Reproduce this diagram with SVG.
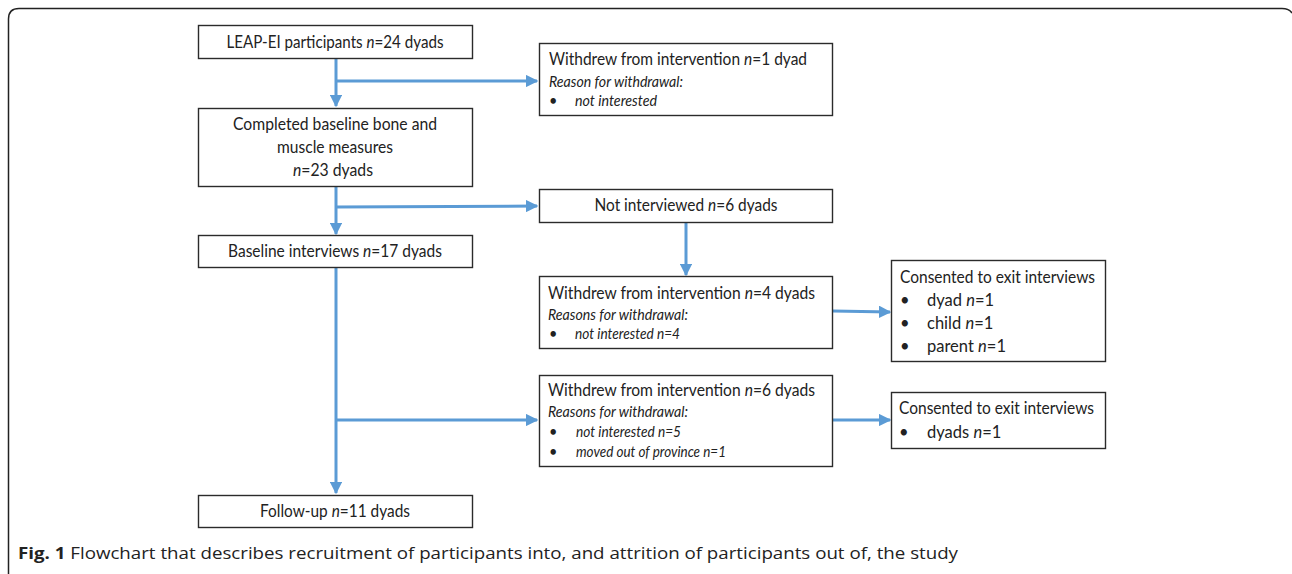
<svg xmlns="http://www.w3.org/2000/svg" width="1292" height="574" viewBox="0 0 1292 574">
<defs>
<style>
.box{fill:#fff;stroke:#2b2b2b;stroke-width:1.4}
.t{font-family:Lato,"Open Sans",sans-serif;font-size:16.5px;fill:#222}
.s{font-family:Lato,"Open Sans",sans-serif;font-size:14.5px;font-style:italic;fill:#222}
.i{font-style:italic}
.c{text-anchor:middle}
.ln{fill:none;stroke:#5B9BD5;stroke-width:3}
.cap{font-family:"Open Sans",sans-serif;font-size:16.5px;fill:#222}
</style>
<marker id="ah" viewBox="0 0 10 10" refX="9" refY="5" markerWidth="4.2" markerHeight="4.2" orient="auto" markerUnits="strokeWidth">
<path d="M0,0 L10,5 L0,10 z" fill="#5B9BD5"/>
</marker>
</defs>
<rect width="1292" height="574" fill="#fff"/>
<path d="M8.5,574 L8.5,19 Q8.5,8.5 19,8.5 L1282,8.5 Q1289,8.5 1292,13" fill="none" stroke="#222" stroke-width="1.5"/>

<g id="connectors">
<path class="ln" d="M336,58 L336,106" marker-end="url(#ah)"/>
<path class="ln" d="M336,81 L537,81" marker-end="url(#ah)"/>
<path class="ln" d="M336,186 L336,234" marker-end="url(#ah)"/>
<path class="ln" d="M336,207 L537,206" marker-end="url(#ah)"/>
<path class="ln" d="M336,267 L336,493" marker-end="url(#ah)"/>
<path class="ln" d="M336,420 L537,420" marker-end="url(#ah)"/>
<path class="ln" d="M686,223 L686,275" marker-end="url(#ah)"/>
<path class="ln" d="M833,311 L890,312" marker-end="url(#ah)"/>
<path class="ln" d="M833,420 L890,420" marker-end="url(#ah)"/>
</g>

<g id="n1">
<rect class="box" x="198.5" y="25.5" width="274" height="33"/>
<text class="t c" x="335" y="48" textLength="217" lengthAdjust="spacingAndGlyphs">LEAP-EI participants <tspan class="i">n</tspan>=24 dyads</text>
</g>
<g id="n2">
<rect class="box" x="539.5" y="43.5" width="293" height="72"/>
<text class="t" x="549" y="65" textLength="258" lengthAdjust="spacingAndGlyphs">Withdrew from intervention <tspan class="i">n</tspan>=1 dyad</text>
<text class="s" x="549" y="87" textLength="134" lengthAdjust="spacingAndGlyphs">Reason for withdrawal:</text>
<text class="s" x="549" y="106">•</text>
<text class="s" x="575" y="106" textLength="82" lengthAdjust="spacingAndGlyphs">not interested</text>
</g>
<g id="n3">
<rect class="box" x="198.5" y="108.5" width="274" height="78"/>
<text class="t c" x="335" y="130" textLength="204" lengthAdjust="spacingAndGlyphs">Completed baseline bone and</text>
<text class="t c" x="335" y="153" textLength="116" lengthAdjust="spacingAndGlyphs">muscle measures</text>
<text class="t c" x="333" y="176" textLength="80" lengthAdjust="spacingAndGlyphs"><tspan class="i">n</tspan>=23 dyads</text>
</g>
<g id="n4">
<rect class="box" x="539.5" y="189.5" width="293" height="33"/>
<text class="t c" x="686" y="211" textLength="183" lengthAdjust="spacingAndGlyphs">Not interviewed <tspan class="i">n</tspan>=6 dyads</text>
</g>
<g id="n5">
<rect class="box" x="198.5" y="235.5" width="274" height="32"/>
<text class="t c" x="335" y="257" textLength="214" lengthAdjust="spacingAndGlyphs">Baseline interviews <tspan class="i">n</tspan>=17 dyads</text>
</g>
<g id="n6">
<rect class="box" x="539.5" y="276.5" width="293" height="72"/>
<text class="t" x="548" y="299" textLength="267" lengthAdjust="spacingAndGlyphs">Withdrew from intervention <tspan class="i">n</tspan>=4 dyads</text>
<text class="s" x="548" y="320" textLength="140" lengthAdjust="spacingAndGlyphs">Reasons for withdrawal:</text>
<text class="s" x="549" y="339">•</text>
<text class="s" x="575" y="339" textLength="105" lengthAdjust="spacingAndGlyphs">not interested n=4</text>
</g>
<g id="n7">
<rect class="box" x="891.5" y="260.5" width="214" height="101"/>
<text class="t" x="900" y="283" textLength="195" lengthAdjust="spacingAndGlyphs">Consented to exit interviews</text>
<text class="t" x="900" y="306">•</text>
<text class="t" x="927" y="306">dyad <tspan class="i">n</tspan>=1</text>
<text class="t" x="900" y="329">•</text>
<text class="t" x="927" y="329">child <tspan class="i">n</tspan>=1</text>
<text class="t" x="900" y="352">•</text>
<text class="t" x="927" y="352">parent <tspan class="i">n</tspan>=1</text>
</g>
<g id="n8">
<rect class="box" x="539.5" y="375.5" width="293" height="91"/>
<text class="t" x="548" y="396" textLength="267" lengthAdjust="spacingAndGlyphs">Withdrew from intervention <tspan class="i">n</tspan>=6 dyads</text>
<text class="s" x="548" y="417" textLength="140" lengthAdjust="spacingAndGlyphs">Reasons for withdrawal:</text>
<text class="s" x="549" y="437">•</text>
<text class="s" x="576" y="437" textLength="105" lengthAdjust="spacingAndGlyphs">not interested n=5</text>
<text class="s" x="549" y="457">•</text>
<text class="s" x="576" y="457" textLength="150" lengthAdjust="spacingAndGlyphs">moved out of province n=1</text>
</g>
<g id="n9">
<rect class="box" x="891.5" y="392.5" width="214" height="56"/>
<text class="t" x="899" y="414" textLength="195" lengthAdjust="spacingAndGlyphs">Consented to exit interviews</text>
<text class="t" x="899" y="438">•</text>
<text class="t" x="927" y="438">dyads <tspan class="i">n</tspan>=1</text>
</g>
<g id="n10">
<rect class="box" x="198.5" y="495.5" width="274" height="32"/>
<text class="t c" x="335" y="517" textLength="150" lengthAdjust="spacingAndGlyphs">Follow-up <tspan class="i">n</tspan>=11 dyads</text>
</g>

<text class="cap" x="18" y="559" textLength="940" lengthAdjust="spacingAndGlyphs"><tspan font-weight="bold">Fig. 1</tspan> Flowchart that describes recruitment of participants into, and attrition of participants out of, the study</text>
</svg>
